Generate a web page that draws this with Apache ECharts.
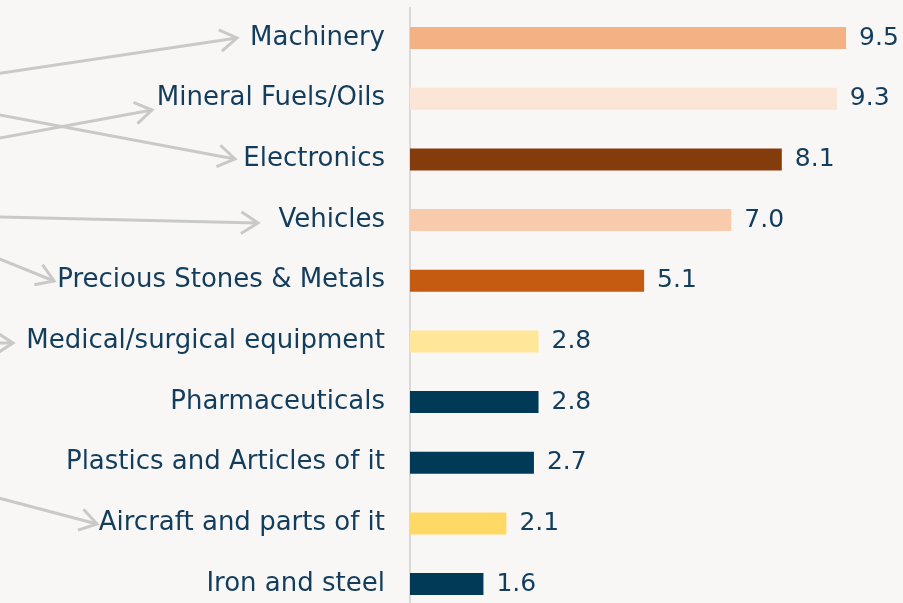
<!DOCTYPE html>
<html>
<head>
<meta charset="utf-8">
<script src="https://cdn.jsdelivr.net/npm/echarts@6/dist/echarts.min.js"></script>
<style>
  html, body { margin: 0; padding: 0; background: #f8f7f5; }
  #chart { width: 903px; height: 603px; }
</style>
</head>
<body>
<div id="chart"></div>
<script>
// categories top to bottom
const categories = [
  'Machinery',
  'Mineral Fuels/Oils',
  'Electronics',
  'Vehicles',
  'Precious Stones & Metals',
  'Medical/surgical equipment',
  'Pharmaceuticals',
  'Plastics and Articles of it',
  'Aircraft and parts of it',
  'Iron and steel'
]
const values = [9.5, 9.3, 8.1, 7.0, 5.1, 2.8, 2.8, 2.7, 2.1, 1.6]
const barColors = [
  '#f4b183', '#fbe5d6', '#843c0c', '#f8cbad', '#c55a11',
  '#ffe699', '#003a57', '#003a57', '#ffd966', '#003a57'
]

// decorative arrows coming in from the left: [startX, startY, tipX, tipY]
const arrows = [
  [-5, 74, 237, 38],
  [-5, 139, 152, 110],
  [-5, 114, 235, 159],
  [-5, 217, 258, 223],
  [-5, 257, 54, 281],
  [-5, 343, 13, 343],
  [-5, 497, 97, 524]
]

const textColor = '#123d5c'
const arrowColor = '#c9c9c9'

const arrowGraphics = []
arrows.forEach(([x1, y1, x2, y2]) => {
  const ang = Math.atan2(y2 - y1, x2 - x1)
  const len = 20
  const spread = Math.PI / 5.5
  const legs = [ang + Math.PI - spread, ang + Math.PI + spread].map(a => [
    x2 + len * Math.cos(a), y2 + len * Math.sin(a)
  ])
  arrowGraphics.push({
    type: 'line',
    shape: { x1, y1, x2, y2 },
    style: { stroke: arrowColor, lineWidth: 3 },
    silent: true
  })
  arrowGraphics.push({
    type: 'polyline',
    shape: { points: [legs[0], [x2, y2], legs[1]] },
    style: { stroke: arrowColor, lineWidth: 3, fill: null, lineJoin: 'miter' },
    silent: true
  })
})

const chart = echarts.init(document.getElementById('chart'))
chart.setOption({
  backgroundColor: '#f8f7f5',
  animation: false,
  grid: {
    left: 410,
    width: 459,
    top: 7.7,
    height: 606.7,
    containLabel: false,
    outerBoundsMode: 'none'
  },
  xAxis: {
    type: 'value',
    min: 0,
    max: 10,
    show: false
  },
  yAxis: {
    type: 'category',
    data: categories,
    inverse: true,
    axisTick: { show: false },
    axisLine: { show: true, lineStyle: { color: '#d9d9d9', width: 2 } },
    axisLabel: {
      margin: 25,
      color: textColor,
      fontSize: 26,
      fontFamily: 'DejaVu Sans'
    }
  },
  series: [
    {
      type: 'bar',
      barWidth: 22,
      data: values.map((v, i) => ({ value: v, itemStyle: { color: barColors[i] } })),
      label: {
        show: true,
        position: 'right',
        distance: 13,
        color: textColor,
        fontSize: 25,
        fontFamily: 'DejaVu Sans',
        formatter: p => p.value.toFixed(1)
      }
    }
  ],
  graphic: arrowGraphics
})
</script>
</body>
</html>
